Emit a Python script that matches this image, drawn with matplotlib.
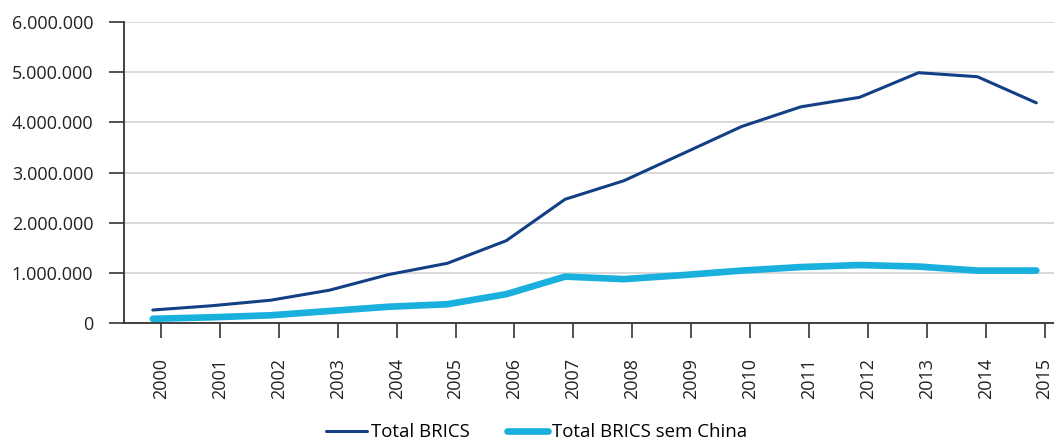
import numpy as np
import matplotlib.pyplot as plt
from matplotlib.ticker import FuncFormatter

plt.rcParams['font.family'] = ['Open Sans', 'DejaVu Sans']

# dados (US$ milhões)
anos = ['2000', '2001', '2002', '2003', '2004', '2005', '2006', '2007',
        '2008', '2009', '2010', '2011', '2012', '2013', '2014', '2015']
total_brics = [265000, 350000, 460000, 660000, 970000, 1195000, 1645000,
               2470000, 2840000, 3380000, 3920000, 4310000, 4500000,
               4990000, 4910000, 4390000]
brics_sem_china = [90000, 120000, 160000, 245000, 330000, 380000, 580000,
                   930000, 880000, 960000, 1050000, 1120000, 1160000,
                   1130000, 1050000, 1050000]

x = np.arange(len(anos))

fig = plt.figure(figsize=(10.54, 4.44), dpi=100)
ax = fig.add_axes([0.1176, 0.2718, 1 - 0.1176, 0.9505 - 0.2718])

ax.plot(x, total_brics, color='#133f84', lw=2.2, label='Total BRICS',
        solid_capstyle='round')
ax.plot(x, brics_sem_china, color='#1ab0de', lw=4.8,
        label='Total BRICS sem China', solid_capstyle='round')

ax.set_ylim(0, 6000000)
ax.set_xlim(-0.49, 15.3)
ax.set_yticks(np.arange(0, 6000001, 1000000))
ax.yaxis.set_major_formatter(
    FuncFormatter(lambda v, p: f'{int(v):,}'.replace(',', '.')))
ax.set_xticks(x + 0.14)
ax.set_xticklabels(anos, rotation=90)

ax.grid(axis='y', color='#d3d3d3', lw=1.2)
ax.set_axisbelow(True)
for s in ['top', 'right']:
    ax.spines[s].set_visible(False)
for s in ['left', 'bottom']:
    ax.spines[s].set_color('#333333')
    ax.spines[s].set_linewidth(1.3)

ax.tick_params(axis='y', length=11, width=1.3, color='#444444',
               labelsize=13, labelcolor='#222222', pad=11)
ax.tick_params(axis='x', length=11, width=1.3, color='#444444',
               labelsize=13, labelcolor='#222222', pad=14)

fig.legend(loc='center', bbox_to_anchor=(0.509, 0.026), ncol=2,
           frameon=False, fontsize=13.4, handlelength=2.2,
           handletextpad=0.2, columnspacing=2.0)

fig.savefig('out.png', dpi=100)
